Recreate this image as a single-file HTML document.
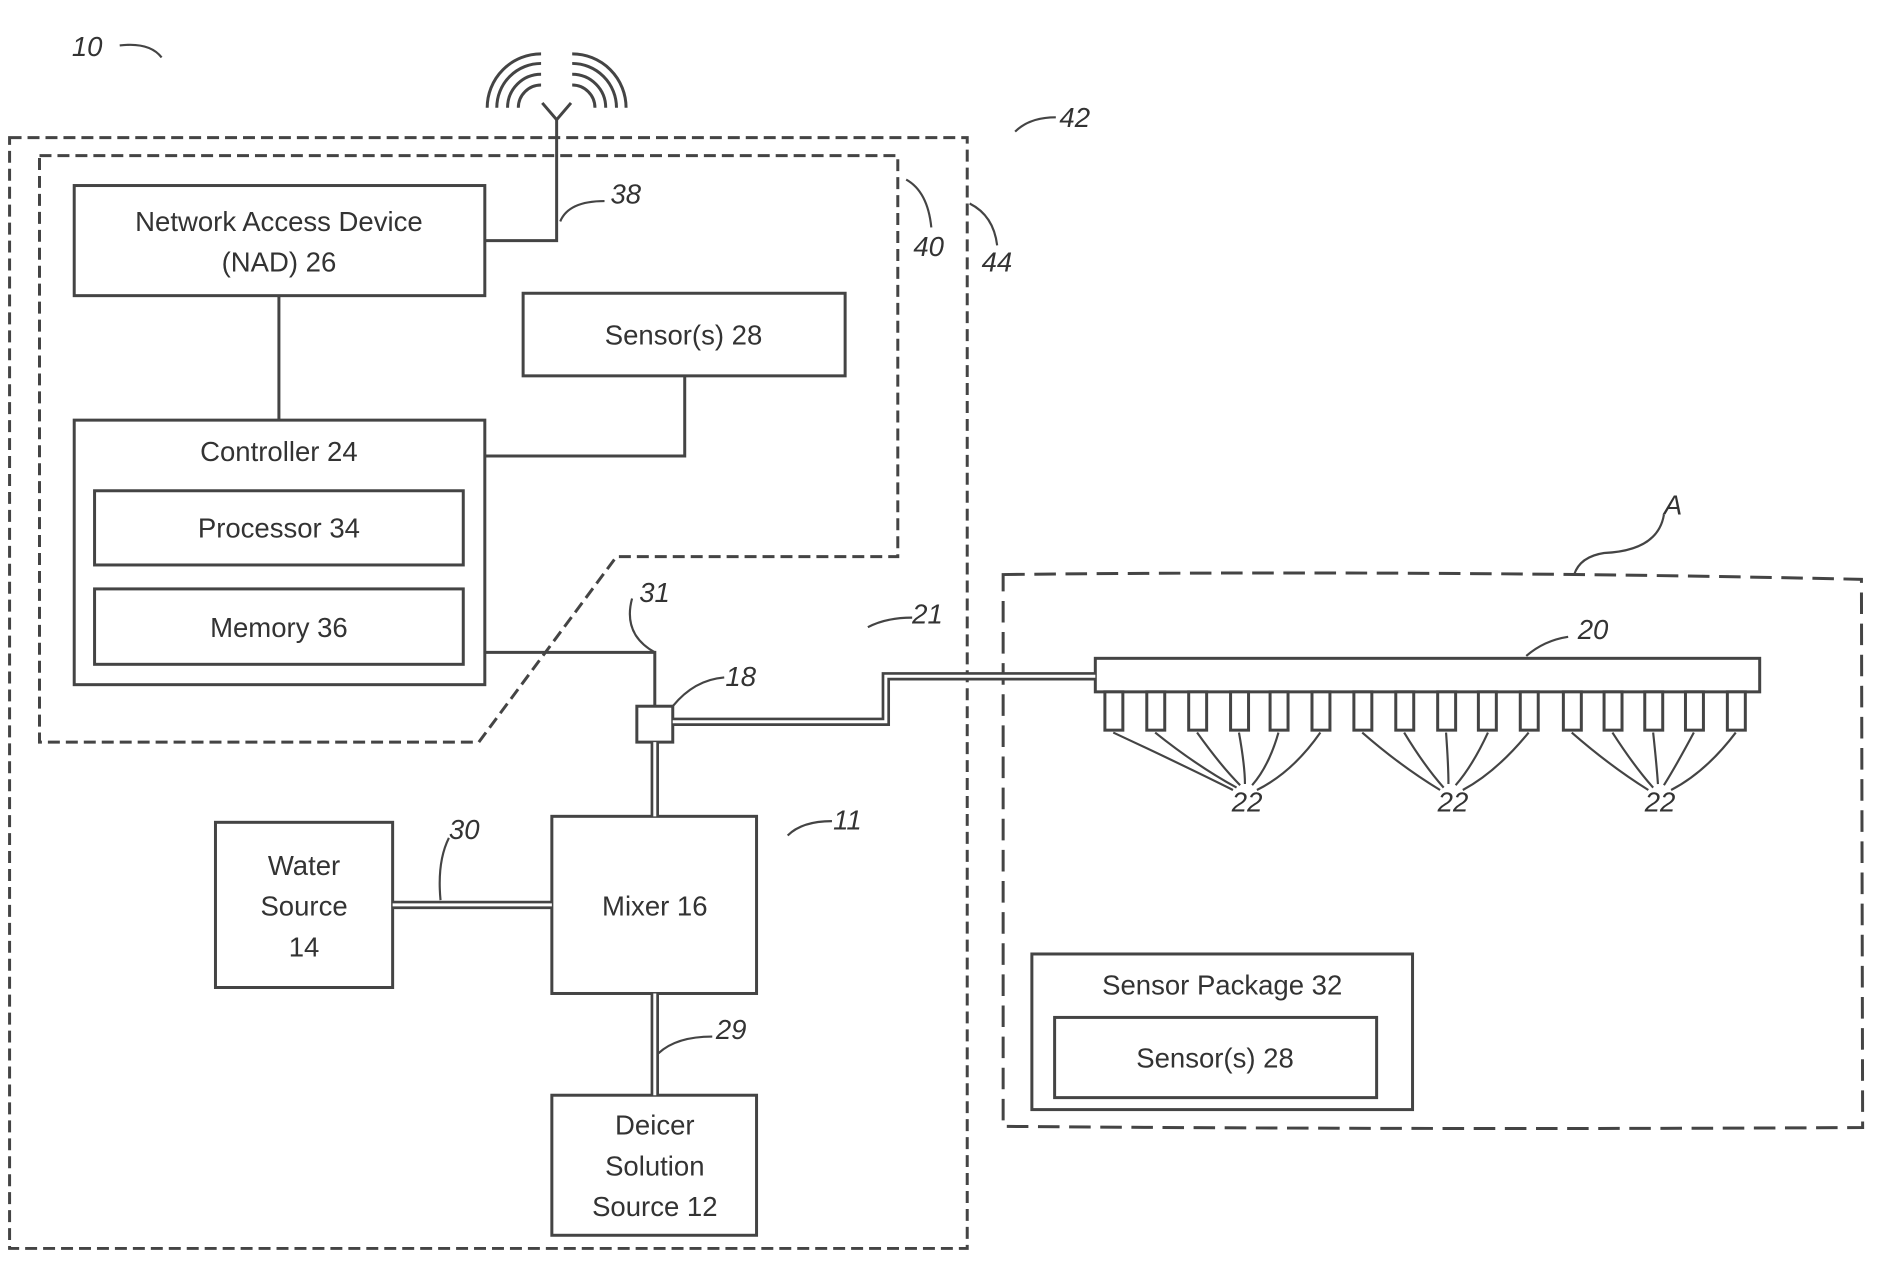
<!DOCTYPE html>
<html><head><meta charset="utf-8"><style>
html,body{margin:0;padding:0;background:#fff;}
svg{display:block;}
text{font-family:"Liberation Sans",sans-serif;fill:#333;}
.t{font-size:23px;text-anchor:middle;}
.i{font-size:23px;font-style:italic;}
</style></head><body>
<svg width="1877" height="1264" viewBox="0 0 1568 1056" preserveAspectRatio="none" xmlns="http://www.w3.org/2000/svg">
<g fill="none" stroke="#444" stroke-width="2.5">
<rect x="8" y="115" width="800" height="928" stroke-dasharray="10,5"/>
<polygon points="33,130 750,130 750,465 515,465 400,620 33,620" stroke-dasharray="10,5"/>
<path d="M838,480 Q1200,476 1555,484 L1556,942 Q1200,944 838,941 Z" stroke-dasharray="18,8"/>
<rect x="62" y="155" width="343" height="92"/>
<rect x="437" y="245" width="269" height="69"/>
<rect x="62" y="351" width="343" height="221"/>
<rect x="79" y="410" width="308" height="62"/>
<rect x="79" y="492" width="308" height="63"/>
<rect x="461" y="682" width="171" height="148"/>
<rect x="180" y="687" width="148" height="138"/>
<rect x="461" y="915" width="171" height="117"/>
<rect x="862" y="797" width="318" height="130"/>
<rect x="881" y="850" width="269" height="67"/>
<rect x="532" y="590" width="30" height="30"/>
<rect x="915" y="550" width="555" height="28"/>
<line x1="233" y1="247" x2="233" y2="351"/>
<polyline points="572,314 572,381 405,381"/>
<polyline points="405,201 465,201 465,100"/>
<polyline points="453,86 465,100 477,86"/>
<path d="M433,90 A19 19 0 0 1 452,71"/><path d="M424,90 A28 28 0 0 1 452,62"/><path d="M415,90 A37 37 0 0 1 452,53"/><path d="M407,90 A45 45 0 0 1 452,45"/>
<path d="M478,71 A19 19 0 0 1 497,90"/><path d="M478,62 A28 28 0 0 1 506,90"/><path d="M478,53 A37 37 0 0 1 515,90"/><path d="M478,45 A45 45 0 0 1 523,90"/>
<polyline points="405,545 547,545 547,590"/>
</g>
<g fill="none" stroke="#444" stroke-width="7"><polyline points="562,603 740,603 740,565 915,565"/><line x1="547" y1="620" x2="547" y2="682"/><line x1="328" y1="756" x2="461" y2="756"/><line x1="547" y1="830" x2="547" y2="915"/></g>
<g fill="none" stroke="#fff" stroke-width="2.5"><polyline points="562,603 740,603 740,565 915,565"/><line x1="547" y1="620" x2="547" y2="682"/><line x1="328" y1="756" x2="461" y2="756"/><line x1="547" y1="830" x2="547" y2="915"/></g>
<g fill="#fff" stroke="#444" stroke-width="2.5">
<rect x="923" y="578" width="15" height="32"/><rect x="958" y="578" width="15" height="32"/><rect x="993" y="578" width="15" height="32"/><rect x="1028" y="578" width="15" height="32"/><rect x="1061" y="578" width="15" height="32"/><rect x="1096" y="578" width="15" height="32"/>
<rect x="1131" y="578" width="15" height="32"/><rect x="1166" y="578" width="15" height="32"/><rect x="1201" y="578" width="15" height="32"/><rect x="1235" y="578" width="15" height="32"/><rect x="1270" y="578" width="15" height="32"/>
<rect x="1306" y="578" width="15" height="32"/><rect x="1340" y="578" width="15" height="32"/><rect x="1374" y="578" width="15" height="32"/><rect x="1408" y="578" width="15" height="32"/><rect x="1443" y="578" width="15" height="32"/>
</g>
<g fill="none" stroke="#444" stroke-width="1.8">
<path d="M930,612 Q990,640 1030,660 M965,612 Q1000,640 1033,658 M1000,612 Q1020,640 1036,656 M1035,612 Q1040,640 1040,655 M1068,612 Q1060,640 1046,656 M1103,612 Q1080,645 1050,660"/>
<path d="M1138,612 Q1170,640 1203,660 M1173,612 Q1190,640 1206,658 M1208,612 Q1210,640 1210,655 M1243,612 Q1230,640 1216,656 M1277,612 Q1250,645 1222,660"/>
<path d="M1313,612 Q1345,640 1377,660 M1347,612 Q1365,640 1381,658 M1381,612 Q1384,640 1385,655 M1415,612 Q1400,640 1390,656 M1450,612 Q1425,645 1396,660"/>
<path d="M505,168 Q475,168 468,185"/><path d="M528,500 Q520,530 547,545"/><path d="M605,566 Q580,568 562,590"/>
<path d="M757,150 Q775,160 778,190"/><path d="M810,170 Q830,180 833,205"/>
<path d="M1310,532 Q1290,535 1275,548"/><path d="M1390,430 Q1385,460 1340,462 Q1320,465 1315,480"/>
<path d="M375,700 Q365,720 368,752"/><path d="M595,866 Q565,866 550,880"/>
<path d="M100,38 Q125,35 135,48"/><path d="M882,98 Q860,98 848,110"/><path d="M762,516 Q740,516 725,524"/><path d="M695,686 Q670,686 658,698"/>
</g>
<text class="t" x="233" y="193">Network Access Device</text>
<text class="t" x="233" y="227">(NAD) 26</text>
<text class="t" x="571" y="288">Sensor(s) 28</text>
<text class="t" x="233" y="385">Controller 24</text>
<text class="t" x="233" y="449">Processor 34</text>
<text class="t" x="233" y="532">Memory 36</text>
<text class="t" x="547" y="765">Mixer 16</text>
<text class="t" x="254" y="731">Water</text><text class="t" x="254" y="765">Source</text><text class="t" x="254" y="799">14</text>
<text class="t" x="547" y="948">Deicer</text><text class="t" x="547" y="982">Solution</text><text class="t" x="547" y="1016">Source 12</text>
<text class="t" x="1021" y="831">Sensor Package 32</text>
<text class="t" x="1015" y="892">Sensor(s) 28</text>
<text class="i" x="60" y="47">10</text>
<text class="i" x="885" y="106">42</text>
<text class="i" x="763" y="214">40</text>
<text class="i" x="820" y="227">44</text>
<text class="i" x="510" y="170">38</text>
<text class="i" x="534" y="503">31</text>
<text class="i" x="606" y="573">18</text>
<text class="i" x="762" y="521">21</text>
<text class="i" x="1318" y="534">20</text>
<text class="i" x="1390" y="430">A</text>
<text class="i" x="696" y="693">11</text>
<text class="i" x="375" y="701">30</text>
<text class="i" x="598" y="868">29</text>
<text class="i" x="1029" y="678">22</text>
<text class="i" x="1201" y="678">22</text>
<text class="i" x="1374" y="678">22</text>
</svg>
</body></html>
